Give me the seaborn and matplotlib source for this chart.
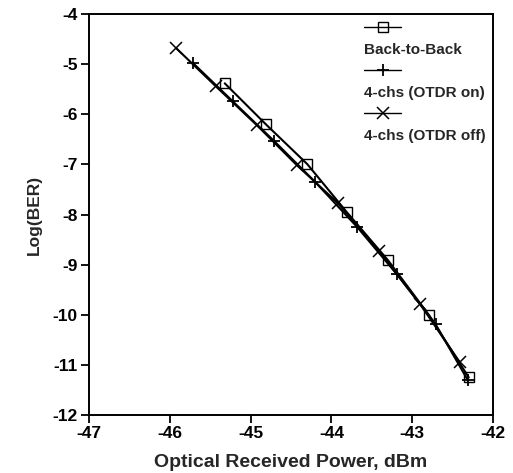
import matplotlib
matplotlib.use("Agg")
import matplotlib.pyplot as plt
from matplotlib.lines import Line2D
import seaborn as sns

# data
b2b_x = [-45.32, -44.81, -44.30, -43.81, -43.30, -42.79, -42.30]
b2b_y = [-5.38, -6.20, -6.99, -7.95, -8.91, -10.01, -11.25]

on_x = [-45.71, -45.22, -44.71, -44.20, -43.68, -43.19, -42.71, -42.31]
on_y = [-4.98, -5.74, -6.53, -7.35, -8.25, -9.19, -10.19, -11.31]

off_x = [-45.92, -45.43, -44.92, -44.43, -43.92, -43.41, -42.90, -42.41]
off_y = [-4.68, -5.44, -6.22, -7.01, -7.77, -8.73, -9.79, -10.95]

labels = ["Back-to-Back", "4-chs (OTDR on)", "4-chs (OTDR off)"]
x_ticks = [-47, -46, -45, -44, -43, -42]
y_ticks = [-4, -5, -6, -7, -8, -9, -10, -11, -12]

sns.set_style("ticks")
plt.rcParams['font.family'] = ['Liberation Sans', 'DejaVu Sans']
plt.rcParams['font.weight'] = 'bold'
plt.rcParams['axes.unicode_minus'] = False

fig = plt.figure(figsize=(5.13, 4.73), dpi=100)
ax = fig.add_axes([0.1735, 0.1226, 0.7875, 0.8474])

styles = [
    dict(marker='s', markersize=7, markerfacecolor='none', markeredgewidth=1.0),
    dict(marker='+', markersize=9, markeredgewidth=1.3),
    dict(marker='x', markersize=8, markeredgewidth=1.1),
]
series = [(b2b_x, b2b_y), (on_x, on_y), (off_x, off_y)]
handles = []
for (xs, ys), st in zip(series, styles):
    sns.lineplot(x=xs, y=ys, ax=ax, color='black', linewidth=1.5, sort=False,
                 markeredgecolor='black', **st)
    handles.append(Line2D([], [], color='black', linewidth=1.0, **st))

ax.set_xlim(-47, -42)
ax.set_ylim(-12, -4)
ax.set_xticks(x_ticks)
ax.set_yticks(y_ticks)
ax.tick_params(direction='out', length=6, width=1.3, labelsize=12.5, colors='black', pad=2)
for t in ax.get_xticklabels() + ax.get_yticklabels():
    t.set_fontweight('bold')
for s in ax.spines.values():
    s.set_visible(True)
    s.set_linewidth(1.4)
    s.set_color('black')

ax.set_xlabel('Optical Received Power, dBm', fontsize=14, fontweight='bold', labelpad=9)
ax.set_ylabel('Log(BER)', fontsize=12.5, fontweight='bold', labelpad=8)

# legend: marker line above each label
blank = Line2D([], [], linestyle='none')
leg_h, leg_l = [], []
for h, lab in zip(handles, labels):
    leg_h += [h, blank]
    leg_l += ['', lab]
leg = ax.legend(leg_h, leg_l, loc='upper right', frameon=False,
                handlelength=2.4, handletextpad=-2.4, labelspacing=0.5,
                borderaxespad=0.2, borderpad=0.25,
                prop={'weight': 'bold', 'size': 11})

fig.savefig('out.png', dpi=100)
